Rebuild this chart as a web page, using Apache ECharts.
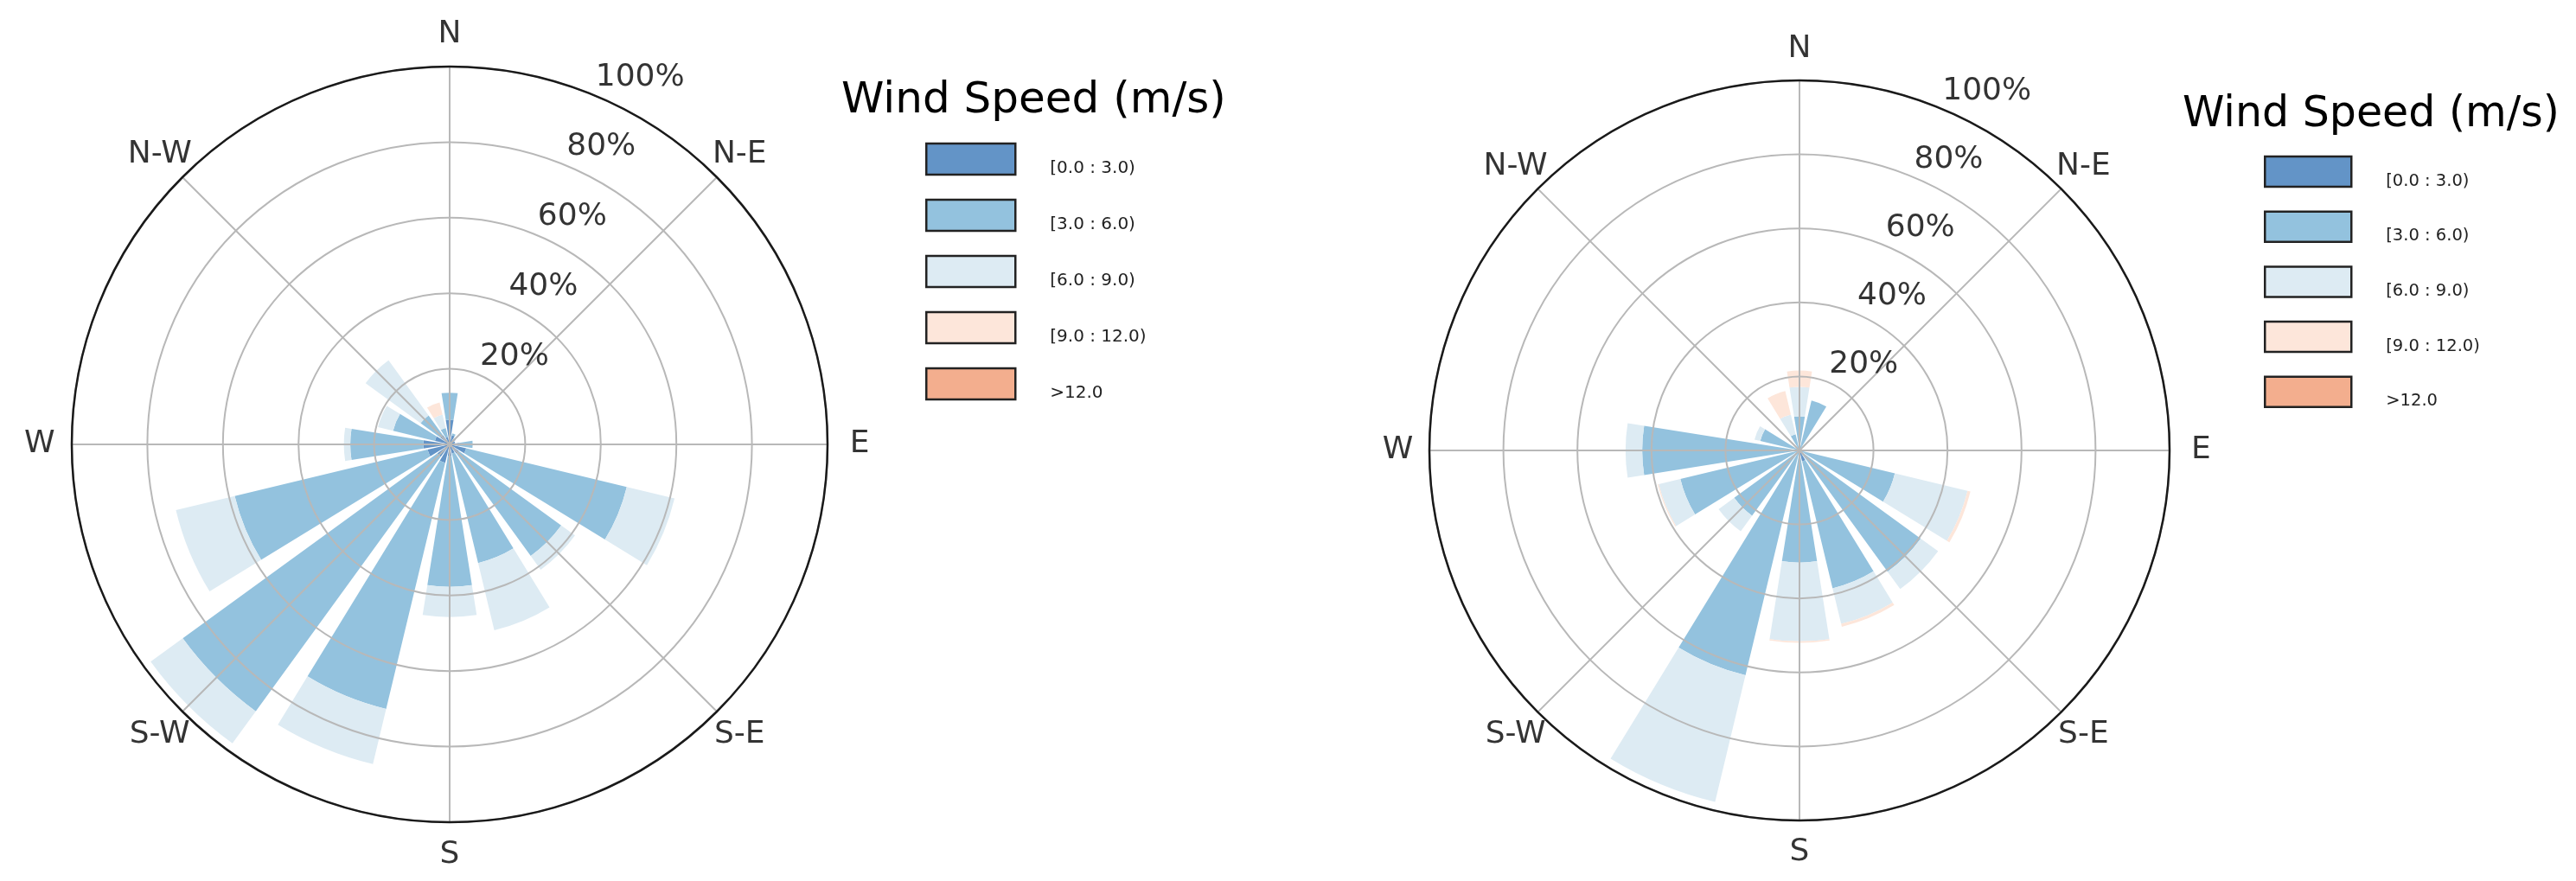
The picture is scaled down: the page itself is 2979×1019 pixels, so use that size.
<!DOCTYPE html>
<html><head><meta charset="utf-8">
<script src="https://cdn.jsdelivr.net/npm/echarts@6/dist/echarts.min.js"></script>
<style>html,body{margin:0;padding:0;background:#fff;} #c{width:2979px;height:1019px;}</style>
</head><body><div id="c"></div>
<script>
// ---- data ----
const directions = ['N','NNE','NE','ENE','E','ESE','SE','SSE','S','SSW','SW','WSW','W','WNW','NW','NNW'];
const compassAngles = [0,45,90,135,180,225,270,315];
const compassLabels = ['N','N-E','E','S-E','S','S-W','W','N-W'];
const speedBins = ['[0.0 : 3.0)','[3.0 : 6.0)','[6.0 : 9.0)','[9.0 : 12.0)','>12.0'];
const radialTicks = [20,40,60,80,100];
const radialTickLabels = ['20%','40%','60%','80%','100%'];
const legendTitle = 'Wind Speed (m/s)';

// left rose (% per speed bin, per direction N..NNW)
const left_0_3   = [6.5,2.5,2,1.5,2.5,4.5,3,2.5,3,5,4,6,7,4,3,2];
const left_3_6   = [7.2,0.5,0,0,3.6,43.7,33.5,29.8,34.7,67,83.3,52.5,19.3,11.4,6.5,2.5];
const left_6_9   = [0,0,0,0,0,13,4.5,18.3,8,15,10.5,16,1.7,4.1,18,3.6];
const left_9_12  = [0,0,0,0,0,0,0,0,0,0,0,0,0,0,0,3.3];
const left_12up  = [0,0,0,0,0,0,0,0,0,0,0,0,0,0,0,0];

// right rose
const right_0_3  = [1,0.5,0,0,0,0.5,0.5,3,0.5,0.5,0.5,0.5,0.5,0.5,0,0.5];
const right_3_6  = [8.2,13.4,0,0,0,26,40,35.3,29.8,62,21.3,32.6,42,10.4,0,4];
const right_6_9  = [8,0,0,0,0,20.2,5.8,9.9,21.3,35.2,5.2,6,4.5,1.6,0,5.5];
const right_9_12 = [4.4,0,0,0,0,0.8,0,0.8,0.4,0,0,0.3,0,0,0,6.5];
const right_12up = [0,0,0,0,0,0,0,0,0,0,0,0,0,0,0,0];

// ---- styles ----
const binColors = ['#6394c7','#93c2de','#ddebf3','#fde6da','#f3ae8e'];
const FONT = 'DejaVu Sans';
const LABEL_R = 108.5;
const RLABEL_ANGLE = 22.5;
const GRID = '#b8b8b8';

const leftBins = [left_0_3,left_3_6,left_6_9,left_9_12,left_12up];
const rightBins = [right_0_3,right_3_6,right_6_9,right_9_12,right_12up];

// polars 0,1: bars (category angle); polars 2,3: grid + labels (value angle in degrees)
const polars = [
  {center:[520,514], radius:437},
  {center:[2081,521], radius:428},
  {center:[520,514], radius:437},
  {center:[2081,521], radius:428}
];
const angleAxes = [0,1].map(i=>({
  polarIndex:i, type:'category', data:directions, boundaryGap:true,
  startAngle: 90 + 360/directions.length/2, clockwise:true,
  axisLine:{show:false}, axisTick:{show:false}, axisLabel:{show:false}, splitLine:{show:false}
})).concat([2,3].map(i=>({
  polarIndex:i, type:'value', min:0, max:360, interval:45, startAngle:90, clockwise:true, z:6,
  axisLine:{show:true, lineStyle:{color:'#1a1a1a', width:2.5}},
  axisTick:{show:false}, axisLabel:{show:false},
  splitLine:{show:true, lineStyle:{color:GRID, width:2}}
})));
const radiusAxes = [0,1].map(i=>({
  polarIndex:i, type:'value', min:0, max:100, interval:20,
  axisLine:{show:false}, axisTick:{show:false}, axisLabel:{show:false}, splitLine:{show:false}
})).concat([2,3].map(i=>({
  polarIndex:i, type:'value', min:0, max:100, interval:20, z:5,
  axisLine:{show:false}, axisTick:{show:false}, axisLabel:{show:false},
  splitLine:{show:true, lineStyle:{color:GRID, width:2}}
})));

function barSeries(bins, idx){
  return bins.map((vals,i)=>({
    name: speedBins[i], type:'bar', coordinateSystem:'polar', polarIndex:idx,
    stack:'s'+idx, data: vals, barWidth:'80%', z:2,
    itemStyle:{color: binColors[i]}
  }));
}
function labelSeries(idx, dy){
  return [{
    name:'rlab'+idx, type:'scatter', coordinateSystem:'polar', polarIndex:idx, clip:false,
    data: radialTicks.map(v=>[v,RLABEL_ANGLE]), symbolSize:1, silent:true, z:10,
    itemStyle:{color:'transparent'},
    label:{show:true, formatter:p=>radialTickLabels[p.dataIndex], position:'right', distance:0,
      offset:[1,dy], fontSize:36, color:'#000', fontFamily:FONT}
  },{
    name:'dlab'+idx, type:'scatter', coordinateSystem:'polar', polarIndex:idx, clip:false,
    data: compassAngles.map(a=>[LABEL_R,a]), symbolSize:1, silent:true, z:10,
    itemStyle:{color:'transparent'},
    label:{show:true, formatter:p=>compassLabels[p.dataIndex], position:'inside',
      fontSize:36, color:'#000', fontFamily:FONT}
  }];
}

const legendCommon = {
  data: speedBins, orient:'vertical', padding:0, icon:'rect', selectedMode:false,
  itemStyle:{borderColor:'#222', borderWidth:2.5},
  formatter: name => '\n' + name
};

const option = {
  animation:false,
  backgroundColor:'#fff',
  title:[
    {text:legendTitle, left:973, top:92, padding:0,
     textStyle:{fontSize:50, fontWeight:'normal', color:'#000', fontFamily:FONT}},
    {text:legendTitle, left:2524, top:109, padding:0,
     textStyle:{fontSize:49, fontWeight:'normal', color:'#000', fontFamily:FONT}}
  ],
  legend:[
    Object.assign({}, legendCommon, {left:1070, top:162, itemWidth:103, itemHeight:36, itemGap:21,
      textStyle:{fontSize:20, lineHeight:22, color:'#222', fontFamily:FONT, padding:[0,0,0,35]}}),
    Object.assign({}, legendCommon, {left:2618, top:176.5, itemWidth:100, itemHeight:35, itemGap:19.7,
      textStyle:{fontSize:19.5, lineHeight:22, color:'#222', fontFamily:FONT, padding:[0,0,0,35]}})
  ],
  polar: polars,
  angleAxis: angleAxes,
  radiusAxis: radiusAxes,
  series: [].concat(barSeries(leftBins,0), barSeries(rightBins,1), labelSeries(2,-21), labelSeries(3,-20))
};

const chart = echarts.init(document.getElementById('c'), null, {renderer:'canvas'});
chart.setOption(option);
</script>
</body></html>
